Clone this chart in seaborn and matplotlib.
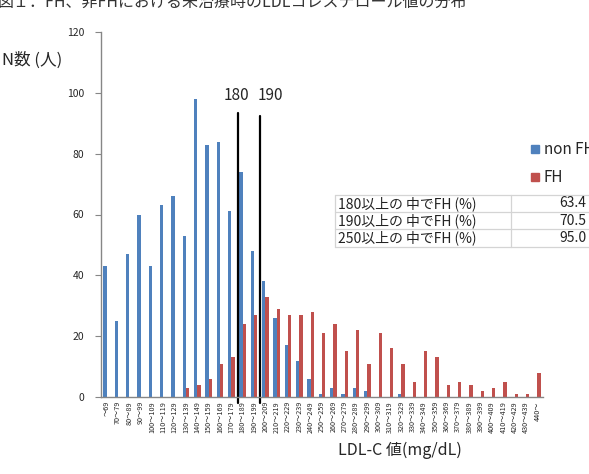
import matplotlib
matplotlib.use("Agg")
import matplotlib.pyplot as plt
import seaborn as sns
import pandas as pd
from matplotlib.lines import Line2D

sns.set_theme(style="white")
plt.rcParams['font.family'] = ['Noto Sans CJK JP', 'DejaVu Sans']

categories = ["～69"] + [f"{v}～{v+9}" for v in range(70, 440, 10)] + ["440～"]
non_fh = [43, 25, 47, 60, 43, 63, 66, 53, 98, 83, 84, 61, 74, 48, 38, 26, 17, 12, 6, 1,
          3, 1, 3, 2, 0, 0, 1, 0, 0, 0, 0, 0, 0, 0, 0, 0, 0, 0, 0]
fh = [0, 0, 0, 0, 0, 0, 0, 3, 4, 6, 11, 13, 24, 27, 33, 29, 27, 27, 28, 21,
      24, 15, 22, 11, 21, 16, 11, 5, 15, 13, 4, 5, 4, 2, 3, 5, 1, 1, 8]
series_names = ["non FH", "FH"]
colors = ["#4F81BD", "#C0504D"]
yticks = [0, 20, 40, 60, 80, 100, 120]
ref_lines = ["180", "190"]
table_labels = ["180以上の 中でFH (%)", "190以上の 中でFH (%)", "250以上の 中でFH (%)"]
table_values = ["63.4", "70.5", "95.0"]

df = pd.DataFrame({
    "cat": categories * 2,
    "group": [series_names[0]] * len(categories) + [series_names[1]] * len(categories),
    "n": non_fh + fh,
})

W, H = 589, 474
fig = plt.figure(figsize=(W / 100, H / 100), dpi=100)
ax = fig.add_axes([101 / W, 1 - 397 / H, 442 / W, (397 - 32) / H])

sns.barplot(data=df, x="cat", y="n", hue="group", palette=colors, width=0.6,
            order=categories, hue_order=series_names, ax=ax, legend=False,
            saturation=1, edgecolor="none")

ax.set_xlim(-0.5, len(categories) - 0.5)
ax.set_ylim(0, 120)
ax.set_yticks(yticks)
ax.set_yticklabels([str(v) for v in yticks], fontsize=7.5)
ax.set_xticks(range(len(categories)))
ax.set_xticklabels(categories, rotation=90, fontsize=5.2)
ax.set_xticks([i - 0.5 for i in range(len(categories) + 1)], minor=True)
ax.tick_params(axis="x", which="major", length=0, pad=3)
ax.tick_params(axis="x", which="minor", length=4, width=0.8, color="#868686", direction="out")
ax.tick_params(axis="y", length=4, width=0.8, color="#868686", direction="out", left=True, pad=8)
ax.set_xlabel("")
ax.set_ylabel("")
for s in ["top", "right"]:
    ax.spines[s].set_visible(False)
for s in ["left", "bottom"]:
    ax.spines[s].set_color("#868686")
    ax.spines[s].set_linewidth(1.0)

# reference lines at 180 and 190
i180 = categories.index("180～189")
i190 = categories.index("190～199")
ax.plot([i180 - 0.45, i180 - 0.45], [-2, 93.3], color="black", lw=1.6, clip_on=False)
ax.plot([i190 + 0.55, i190 + 0.55], [-2, 92.5], color="black", lw=1.6, clip_on=False)
fig.text(236 / W, 1 - 96 / H, ref_lines[0], fontsize=11, ha="center", va="center")
fig.text(270 / W, 1 - 96 / H, ref_lines[1], fontsize=11, ha="center", va="center")

# legend
handles = [Line2D([], [], marker="s", ls="none", color=c, markersize=6) for c in colors]
fig.legend(handles, series_names, loc="upper left", bbox_to_anchor=(530 / W, 1 - 141 / H),
           frameon=False, fontsize=11, handlelength=0.6, handletextpad=0.3,
           labelspacing=0.75, borderpad=0, borderaxespad=0)

# table
tc = "#d4d4d4"
x0, x1, x2 = 335 / W, 511 / W, 1.0
rows_y = [195, 212, 229, 247]
for y in rows_y:
    fig.add_artist(Line2D([x0, x2], [1 - y / H, 1 - y / H], color=tc, lw=0.9))
for x in [x0, x1]:
    fig.add_artist(Line2D([x, x], [1 - rows_y[0] / H, 1 - rows_y[-1] / H], color=tc, lw=0.9))
for k in range(3):
    yc = 1 - (rows_y[k] + rows_y[k + 1]) / 2 / H
    fig.text(338 / W, yc, table_labels[k], fontsize=10, ha="left", va="center", color="#222222")
    fig.text(586 / W, yc, table_values[k], fontsize=10, ha="right", va="center", color="#222222")

# texts
fig.text(2 / W, 1 - 60 / H, "N数 (人)", fontsize=12, ha="left", va="center")
fig.text(400 / W, 1 - 450 / H, "LDL-C 値(mg/dL)", fontsize=11.5, ha="center", va="center")
fig.text(-2 / W, 1 - 11 / H, "図１．FH、非FHにおける未治療時のLDLコレステロール値の分布",
         fontsize=11.5, ha="left", va="bottom", color="#333333")

fig.savefig("out.png", dpi=100)
